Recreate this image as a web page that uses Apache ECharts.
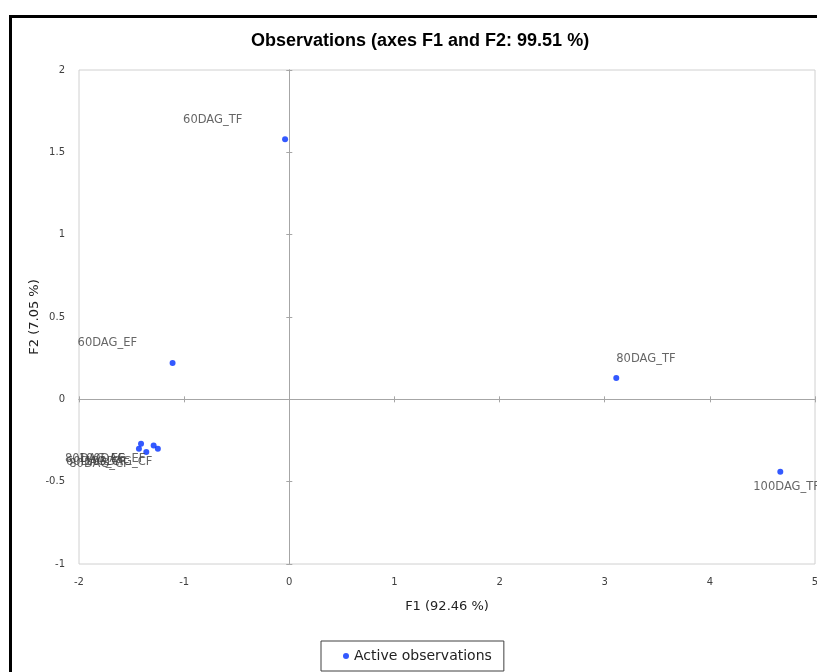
<!DOCTYPE html>
<html>
<head>
<meta charset="utf-8">
<script src="https://cdn.jsdelivr.net/npm/echarts@6/dist/echarts.min.js"></script>
<style>
  html, body { margin: 0; padding: 0; background: #fff; }
  #chart { width: 817px; height: 672px; }
</style>
</head>
<body>
<div id="chart"></div>
<script>
// observations (F1, F2 scores)
var names = ['60DAG_TF', '60DAG_EF', '80DAG_TF', '100DAG_TF',
             '80DAG_EF', '60DAG_CF', '80DAG_CF', '100DAG_EF', '100DAG_CF'];
var f1 = [-0.04, -1.11, 3.11, 4.67, -1.41, -1.43, -1.36, -1.29, -1.25];
var f2 = [1.58, 0.22, 0.13, -0.44, -0.27, -0.30, -0.32, -0.28, -0.30];

var xTicks = { min: -2, max: 5, step: 1 };
var yTicks = { min: -1, max: 2, step: 0.5 };

// where each label sits relative to its dot (px)
var labelShift = [[-99, -16], [-92, -17], [3, -16], [-24, 18],
                  [-73, 18], [-70, 16], [-74, 15], [-72, 17], [-70, 16]];

var pts = names.map(function (n, i) {
    return {
        name: n,
        value: [f1[i], f2[i]],
        label: { position: labelShift[i] }
    };
});

var lineColor = '#a6a6a6';
var tickLbl = { fontSize: 10, color: '#404040', fontFamily: 'DejaVu Sans' };

function zeroX(pos) {
    return {
        type: 'value', min: xTicks.min, max: xTicks.max, interval: xTicks.step,
        position: pos, gridIndex: 0,
        axisLine: { show: true, onZero: true, lineStyle: { color: lineColor } },
        axisTick: { show: true, length: 3, lineStyle: { color: lineColor } },
        axisLabel: { show: false }, splitLine: { show: false }
    };
}
function zeroY(pos) {
    return {
        type: 'value', min: yTicks.min, max: yTicks.max, interval: yTicks.step,
        position: pos, gridIndex: 0,
        axisLine: { show: true, onZero: true, lineStyle: { color: lineColor } },
        axisTick: { show: true, length: 3, lineStyle: { color: lineColor } },
        axisLabel: { show: false }, splitLine: { show: false }
    };
}

var option = {
    backgroundColor: '#fff',
    animation: false,
    title: {
        text: 'Observations (axes F1 and F2: 99.51 %)',
        left: 246, top: 27,
        textStyle: { fontFamily: 'Liberation Sans', fontWeight: 'bold', fontSize: 18, color: '#000' }
    },
    grid: {
        left: 79, right: 2, top: 70, bottom: 108,
        outerBoundsMode: 'none',
        show: true, borderColor: '#d0d0d0', borderWidth: 1
    },
    xAxis: [
        {
            type: 'value', min: xTicks.min, max: xTicks.max, interval: xTicks.step,
            position: 'bottom',
            name: 'F1 (92.46 %)', nameLocation: 'middle', nameGap: 36,
            nameTextStyle: { fontFamily: 'DejaVu Sans', fontSize: 13, color: '#222' },
            axisLine: { show: false, onZero: false },
            axisTick: { show: false },
            axisLabel: Object.assign({ margin: 13 }, tickLbl),
            splitLine: { show: false }
        },
        zeroX('top'),
        zeroX('bottom')
    ],
    yAxis: [
        {
            type: 'value', min: yTicks.min, max: yTicks.max, interval: yTicks.step,
            position: 'left',
            name: 'F2 (7.05 %)', nameLocation: 'middle', nameGap: 38,
            nameMoveOverlap: false,
            nameTextStyle: { fontFamily: 'DejaVu Sans', fontSize: 13, color: '#222' },
            axisLine: { show: false, onZero: false },
            axisTick: { show: false },
            axisLabel: Object.assign({ margin: 14 }, tickLbl),
            splitLine: { show: false }
        },
        zeroY('right'),
        zeroY('left')
    ],
    legend: {
        left: 321, top: 641,
        data: ['Active observations'],
        icon: 'circle', itemWidth: 6, itemHeight: 6, itemGap: 6,
        padding: [8, 12, 8, 22],
        borderColor: '#404040', borderWidth: 1,
        textStyle: { fontFamily: 'DejaVu Sans', fontSize: 14, color: '#222' }
    },
    graphic: [{
        type: 'rect',
        shape: { x: 10.5, y: 16.5, width: 900, height: 700 },
        style: { fill: 'none', stroke: '#000', lineWidth: 3 },
        silent: true
    }],
    series: [{
        name: 'Active observations',
        type: 'scatter',
        xAxisIndex: 0, yAxisIndex: 0,
        symbolSize: 6,
        itemStyle: { color: '#0030ff' },
        label: {
            show: true,
            formatter: '{b}',
            align: 'left', verticalAlign: 'middle',
            fontFamily: 'DejaVu Sans', fontSize: 11.5, color: '#404040'
        },
        labelLayout: { hideOverlap: false },
        data: pts
    }]
};

var myChart = echarts.init(document.getElementById('chart'));
myChart.setOption(option);
</script>
</body>
</html>
